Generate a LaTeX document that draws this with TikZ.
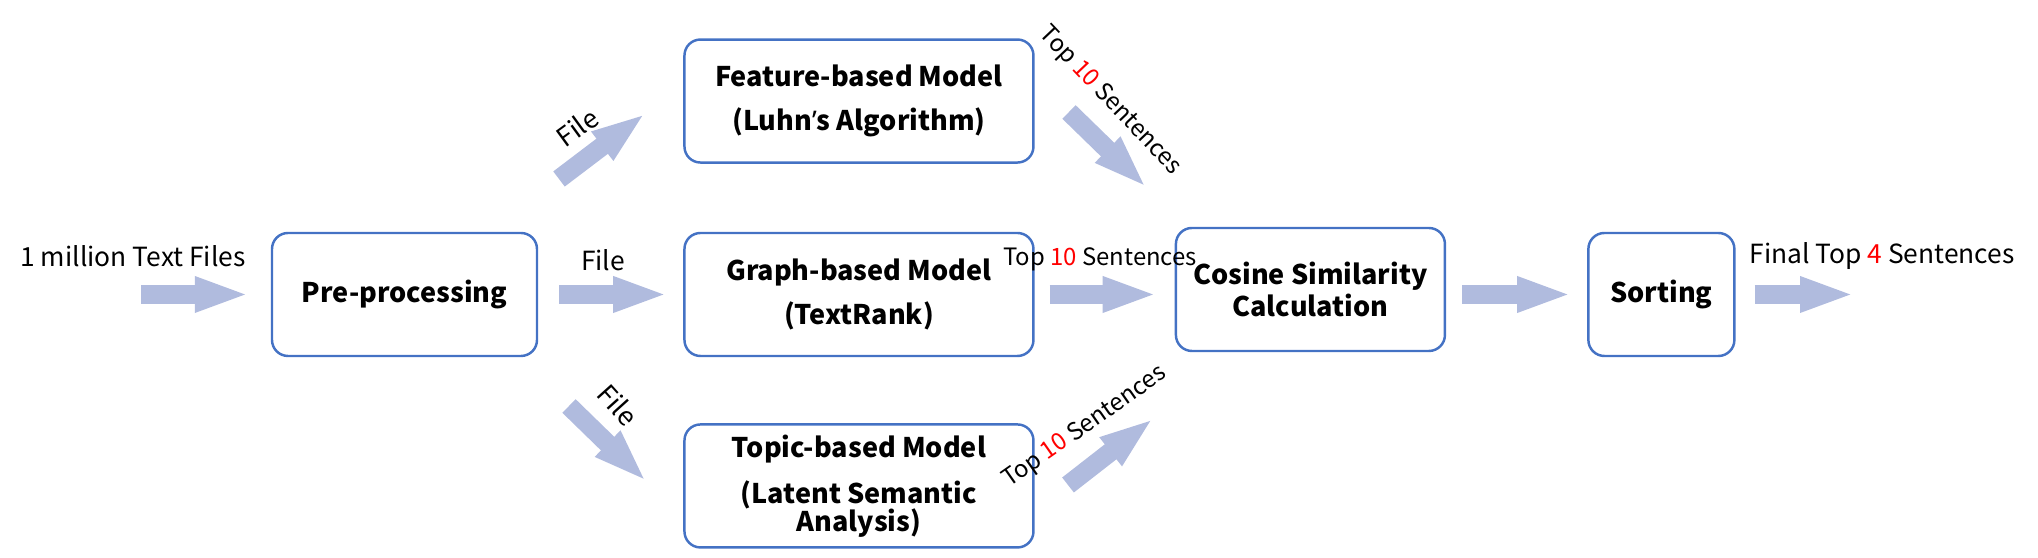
\documentclass[tikz,border=0pt]{standalone}
\usepackage{fontspec}
\setmainfont{Noto Sans CJK SC}
\newfontfamily\latinfont{Noto Sans}
\usepackage{tikz}
\usetikzlibrary{positioning,arrows.meta}
\definecolor{boxblue}{RGB}{68,114,196}
\definecolor{arrowblue}{RGB}{176,187,222}
\newcommand{\rednum}[1]{\textcolor{red}{#1}}

\begin{document}
\begin{tikzpicture}[
    box/.style={draw=boxblue,line width=0.7pt,rounded corners=0.16cm,minimum height=1.23cm,align=center,
      font=\fontsize{7.7}{12.3}\selectfont\bfseries,inner sep=0pt},
    lbl/.style={font=\fontsize{7.5}{9}\selectfont,inner sep=0pt},
    toplbl/.style={font=\fontsize{6.8}{8}\selectfont,inner sep=0pt},
    blk/.style={draw=arrowblue,line width=0.19cm,-{Triangle[length=0.55cm,width=0.32cm]}}
  ]
    \useasboundingbox (0,0) rectangle (20.38,5.58);

    % Stage 1: input and pre-processing
    \node[box, minimum width=2.65cm] (pre) at (4.045,2.635) {Pre-processing};

    % Stage 2: the three models
    \node[box, minimum width=3.49cm, right=1.45cm of pre] (graph) {Graph-based Model\\(TextRank)};
    \node[box, minimum width=3.49cm, above=0.68cm of graph] (feat) {Feature-based Model\\(Luhn{\latinfont\bfseries ’}s Algorithm)};
    \node[box, minimum width=3.49cm, below=0.66cm of graph] (topic) {Topic-based Model\\[1pt](Latent Semantic\\[-4.5pt]Analysis)};

    % Stage 3: similarity and sorting
    \node[box, minimum width=2.69cm, right=1.40cm of graph, yshift=0.05cm] (cos) {Cosine Similarity\\[-3pt]Calculation};
    \node[box, minimum width=1.46cm, right=1.41cm of cos, yshift=-0.05cm] (sort) {Sorting};

    % Labels
    \node[lbl] (input) at (1.33,3.02) {1 million Text Files};
    \node[lbl] (filemid) at (6.03,2.98) {File};
    \node[lbl, rotate=36] (fileup) at (5.77,4.31) {File};
    \node[lbl, rotate=-48] (filedown) at (6.18,1.53) {File};
    \node[toplbl] (topmid) at (11.00,2.99) {Top \rednum{10} Sentences};
    \node[toplbl, rotate=-46.5] (topup) at (11.10,4.57) {Top \rednum{10} Sentences};
    \node[toplbl, rotate=35] (topdown) at (10.85,1.31) {Top \rednum{10} Sentences};
    \node[lbl] (final) at (18.82,3.02) {Final Top \rednum{4} Sentences};

    % Free arrow ends
    \coordinate (src) at (1.41,2.635);
    \coordinate (dst) at (18.55,2.63);
    \coordinate (fa1) at (5.59,3.79);
    \coordinate (fa2) at (6.46,4.45);
    \coordinate (fb1) at (5.69,1.52);
    \coordinate (fb2) at (6.47,0.76);
    \coordinate (ta1) at (10.69,4.46);
    \coordinate (ta2) at (11.47,3.70);
    \coordinate (tb1) at (10.68,0.73);
    \coordinate (tb2) at (11.54,1.40);

    % Arrows
    \draw[blk, shorten >=0.21cm] (src) -- (src -| pre.west);
    \draw[blk, shorten <=0.21cm, shorten >=0.15cm] (pre.east) -- (graph.west);
    \draw[blk] (fa1) -- (fa2);
    \draw[blk] (fb1) -- (fb2);
    \draw[blk, shorten <=0.15cm, shorten >=0.17cm] (graph.east) -- (graph.east -| cos.west);
    \draw[blk] (ta1) -- (ta2);
    \draw[blk] (tb1) -- (tb2);
    \draw[blk, shorten <=0.16cm, shorten >=0.15cm] (sort.west -| cos.east) -- (sort.west);
    \draw[blk, shorten <=0.19cm] (sort.east) -- (sort.east -| dst);
  \end{tikzpicture}
\end{document}
